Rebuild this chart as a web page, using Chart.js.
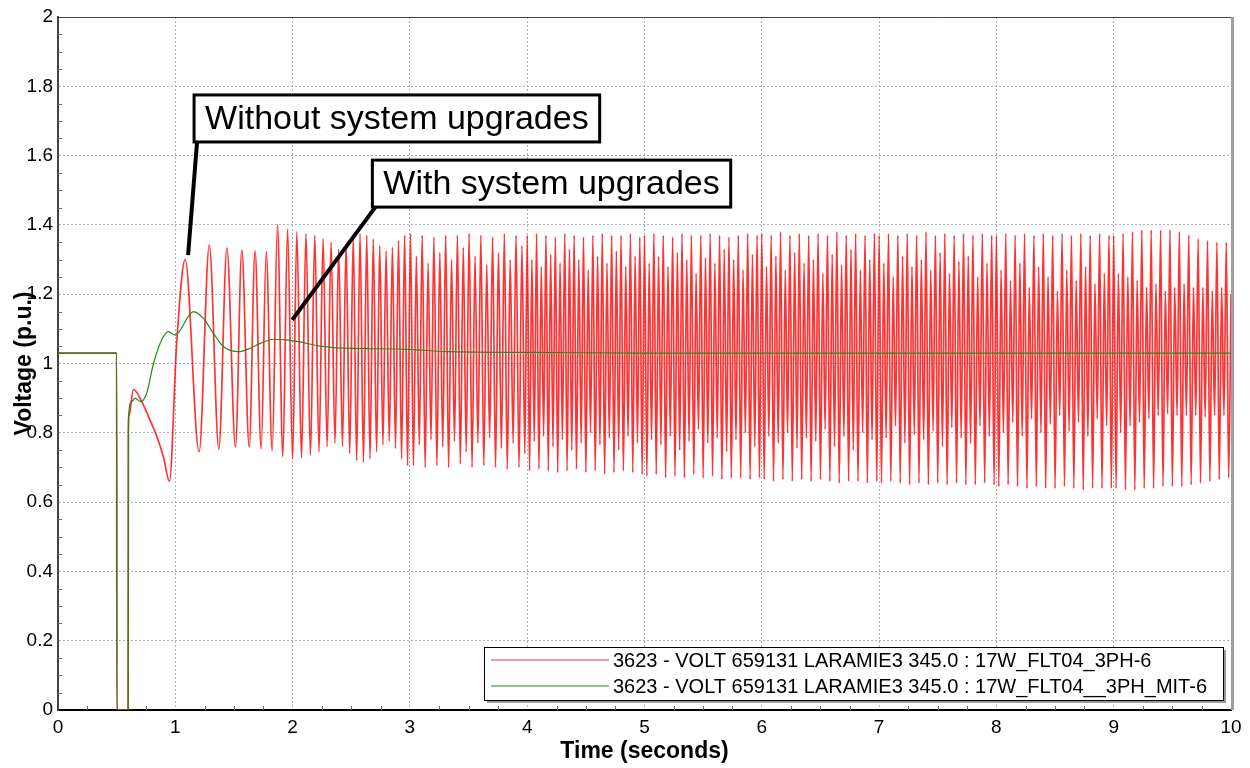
<!DOCTYPE html>
<html><head><meta charset="utf-8">
<script src="https://cdn.jsdelivr.net/npm/chart.js@4.4.1/dist/chart.umd.min.js"></script>
<style>html,body{margin:0;padding:0;background:#fff;overflow:hidden}</style>
</head><body>
<canvas id="c" width="1250" height="768"></canvas>
<script>
// ---------- DATA ----------
const timeTickLabels = ['0','1','2','3','4','5','6','7','8','9','10'];
const voltTickLabels = ['0','0.2','0.4','0.6','0.8','1','1.2','1.4','1.6','1.8','2'];

const seriesNames = [
  '3623 - VOLT 659131 LARAMIE3 345.0 : 17W_FLT04_3PH-6',
  '3623 - VOLT 659131 LARAMIE3 345.0 : 17W_FLT04__3PH_MIT-6'
];

// Without system upgrades (red) : time of each turning point (s)
const redTime = [
  0,0.5,0.502,0.598,0.6,0.606,0.643,0.714,0.78,0.842,0.899,0.95,1.012,
  1.084,1.203,1.29,1.371,1.44,1.513,1.567,1.63,1.68,1.732,1.775,1.826,1.871,1.917,1.957,2.0,
  2.036,2.076,2.114,2.152,2.189,2.225,2.26,2.294,2.328,2.361,2.393,2.425,2.456,2.487,2.517,2.546,2.575,2.604,2.632,2.66,2.688,2.716,2.743,2.77,2.797,2.824,2.851,2.877,2.903,2.929,2.955,2.98,
  3.005,3.03,3.055,3.08,3.105,3.13,3.155,3.18,3.205,3.23,3.255,3.28,3.305,3.33,3.355,3.38,3.405,3.43,3.455,3.48,3.505,3.53,3.555,3.58,3.605,3.63,3.655,3.68,3.705,3.73,3.755,3.78,3.805,3.83,3.855,3.88,3.905,3.93,3.955,3.98,
  4.00,4.02,4.04,4.06,4.08,4.10,4.12,4.14,4.16,4.18,4.20,4.22,4.24,4.26,4.28,4.30,4.32,4.34,4.36,4.38,4.40,4.42,4.44,4.46,4.48,4.50,4.52,4.54,4.56,4.58,4.60,4.62,4.64,4.66,4.68,4.70,4.72,4.74,4.76,4.78,4.80,4.82,4.84,4.86,4.88,4.90,4.92,4.94,4.96,4.98,
  5.00,5.02,5.04,5.06,5.08,5.10,5.12,5.14,5.16,5.18,5.20,5.22,5.24,5.26,5.28,5.30,5.32,5.34,5.36,5.38,5.40,5.42,5.44,5.46,5.48,5.50,5.52,5.54,5.56,5.58,5.60,5.62,5.64,5.66,5.68,5.70,5.72,5.74,5.76,5.78,5.80,5.82,5.84,5.86,5.88,5.90,5.92,5.94,5.96,5.98,
  6.00,6.02,6.04,6.06,6.08,6.10,6.12,6.14,6.16,6.18,6.20,6.22,6.24,6.26,6.28,6.30,6.32,6.34,6.36,6.38,6.40,6.42,6.44,6.46,6.48,6.50,6.52,6.54,6.56,6.58,6.60,6.62,6.64,6.66,6.68,6.70,6.72,6.74,6.76,6.78,6.80,6.82,6.84,6.86,6.88,6.90,6.92,6.94,6.96,6.98,
  7.00,7.02,7.04,7.06,7.08,7.10,7.12,7.14,7.16,7.18,7.20,7.22,7.24,7.26,7.28,7.30,7.32,7.34,7.36,7.38,7.40,7.42,7.44,7.46,7.48,7.50,7.52,7.54,7.56,7.58,7.60,7.62,7.64,7.66,7.68,7.70,7.72,7.74,7.76,7.78,7.80,7.82,7.84,7.86,7.88,7.90,7.92,7.94,7.96,7.98,
  8.00,8.02,8.04,8.06,8.08,8.10,8.12,8.14,8.16,8.18,8.20,8.22,8.24,8.26,8.28,8.30,8.32,8.34,8.36,8.38,8.40,8.42,8.44,8.46,8.48,8.50,8.52,8.54,8.56,8.58,8.60,8.62,8.64,8.66,8.68,8.70,8.72,8.74,8.76,8.78,8.80,8.82,8.84,8.86,8.88,8.90,8.92,8.94,8.96,8.98,
  9.00,9.02,9.04,9.06,9.08,9.10,9.12,9.14,9.16,9.18,9.20,9.22,9.24,9.26,9.28,9.30,9.32,9.34,9.36,9.38,9.40,9.42,9.44,9.46,9.48,9.50,9.52,9.54,9.56,9.58,9.60,9.62,9.64,9.66,9.68,9.70,9.72,9.74,9.76,9.78,9.80,9.82,9.84,9.86,9.88,9.90,9.92,9.94,9.96,9.98,
  10.0
];
// Without system upgrades (red) : voltage at each turning point (p.u.)
const redVolt = [
  1.03,1.03,0,0,0.80,0.85,0.925,0.89,0.84,0.79,0.73,0.66,1.06,
  1.30,0.745,1.342,0.753,1.334,0.759,1.327,0.759,1.325,0.753,1.323,0.748,1.40,0.731,1.388,0.724,
  1.38,0.728,1.375,0.735,1.37,0.745,1.36,0.76,1.35,0.77,1.33,0.76,1.345,0.74,1.365,0.72,1.375,0.715,1.37,0.725,1.36,0.745,1.34,0.765,1.325,0.775,1.335,0.755,1.355,0.725,1.37,0.705,
  1.375,0.705,1.31,0.765,1.37,0.70,1.29,0.78,1.365,0.705,1.32,0.76,1.37,0.70,1.30,0.775,1.37,0.71,1.335,0.745,1.375,0.70,1.31,0.77,1.37,0.705,1.285,0.785,1.365,0.70,1.32,0.755,1.375,0.695,1.30,0.77,1.37,0.70,1.34,0.74,
  1.37,0.69,1.30,0.775,1.375,0.695,1.28,0.79,1.37,0.69,1.315,0.76,1.365,0.685,1.29,0.78,1.375,0.69,1.33,0.75,1.37,0.695,1.30,0.77,1.365,0.685,1.27,0.80,1.37,0.69,1.31,0.765,1.375,0.68,1.29,0.785,1.37,0.685,1.325,0.75,1.37,0.69,1.28,0.79,1.375,0.685,1.31,0.77,1.365,0.68,
  1.37,0.675,1.29,0.78,1.375,0.68,1.31,0.765,1.37,0.67,1.28,0.79,1.365,0.675,1.32,0.75,1.375,0.67,1.30,0.775,1.37,0.68,1.26,0.81,1.37,0.67,1.305,0.77,1.375,0.675,1.29,0.785,1.37,0.665,1.33,0.745,1.365,0.67,1.30,0.78,1.37,0.67,1.27,0.80,1.375,0.665,1.315,0.76,1.37,0.67,
  1.375,0.665,1.28,0.79,1.37,0.66,1.31,0.77,1.38,0.665,1.27,0.80,1.37,0.66,1.32,0.755,1.375,0.665,1.29,0.785,1.37,0.66,1.30,0.775,1.375,0.665,1.26,0.81,1.37,0.66,1.315,0.76,1.38,0.655,1.285,0.79,1.37,0.66,1.33,0.75,1.375,0.66,1.27,0.80,1.37,0.655,1.30,0.78,1.375,0.66,
  1.37,0.655,1.29,0.785,1.375,0.66,1.25,0.82,1.37,0.655,1.31,0.77,1.375,0.65,1.28,0.795,1.37,0.655,1.30,0.78,1.38,0.65,1.27,0.805,1.37,0.655,1.32,0.76,1.375,0.65,1.26,0.815,1.37,0.655,1.295,0.785,1.375,0.65,1.31,0.77,1.37,0.65,1.25,0.82,1.375,0.655,1.29,0.79,1.37,0.65,
  1.37,0.645,1.27,0.80,1.375,0.65,1.24,0.83,1.37,0.645,1.29,0.79,1.375,0.64,1.22,0.84,1.37,0.645,1.28,0.80,1.375,0.64,1.25,0.825,1.37,0.64,1.21,0.85,1.375,0.645,1.27,0.805,1.37,0.64,1.24,0.83,1.375,0.635,1.28,0.79,1.37,0.64,1.23,0.84,1.375,0.64,1.26,0.82,1.37,0.64,
  1.37,0.64,1.26,0.80,1.375,0.635,1.25,0.82,1.38,0.635,1.24,0.83,1.385,0.64,1.22,0.84,1.385,0.64,1.23,0.85,1.385,0.645,1.21,0.855,1.385,0.645,1.22,0.85,1.38,0.645,1.23,0.85,1.37,0.65,1.22,0.85,1.36,0.655,1.22,0.845,1.355,0.66,1.21,0.85,1.35,0.665,1.22,0.85,1.35,0.67,
  1.20
];

// With system upgrades (green)
const greenTime = [0,0.5,0.502,0.598,0.6,0.628,0.657,0.705,0.756,0.814,0.884,0.941,0.998,1.155,1.24,1.325,1.41,1.538,1.638,1.724,1.837,1.951,2.05,2.235,2.378,3.0,3.317,4.03,5.0,10.0];
const greenVolt = [1.03,1.03,0,0,0.84,0.89,0.90,0.89,0.914,1.0,1.068,1.092,1.082,1.15,1.13,1.087,1.049,1.034,1.044,1.058,1.07,1.068,1.063,1.05,1.045,1.041,1.034,1.032,1.03,1.03];

// Callout annotations: text, box anchor (time, volt of top-left), pointer tip (time, volt)
const calloutTexts = ['Without system upgrades', 'With system upgrades'];
const calloutBoxAnchor = [[1.16, 1.775], [2.68, 1.587]];
const calloutTip = [[1.109, 1.313], [1.997, 1.126]];

// ---------- CHART ----------
function pts(ts, vs) {
  const n = Math.min(ts.length, vs.length);
  const out = [];
  for (let i = 0; i < n; i++) out.push({x: ts[i], y: vs[i]});
  return out;
}

const FONT = "'Liberation Sans', Arial, sans-serif";
Chart.defaults.font.family = FONT;
Chart.defaults.color = '#000';

const decor = {
  id: 'decor',
  afterDraw(chart) {
    const {ctx, chartArea: ca, scales: {x, y}} = chart;
    ctx.save();
    // minor ticks (inside)
    ctx.strokeStyle = '#666';
    ctx.lineWidth = 1;
    ctx.beginPath();
    for (let k = 1; k < 40; k++) {
      if (k % 4 === 0) continue;
      const px = Math.round(x.getPixelForValue(k * 0.25)) + 0.5;
      ctx.moveTo(px, ca.bottom); ctx.lineTo(px, ca.bottom - 4);
    }
    for (let k = 1; k < 40; k++) {
      if (k % 4 === 0) continue;
      const py = Math.round(y.getPixelForValue(k * 0.05)) + 0.5;
      ctx.moveTo(ca.left, py); ctx.lineTo(ca.left + 4, py);
    }
    ctx.stroke();
    // top and right frame
    ctx.strokeStyle = '#444';
    ctx.lineWidth = 1;
    ctx.beginPath(); ctx.moveTo(ca.left, ca.top + 0.5); ctx.lineTo(ca.right, ca.top + 0.5); ctx.stroke();
    ctx.strokeStyle = '#a0a0a0';
    ctx.lineWidth = 3;
    ctx.beginPath(); ctx.moveTo(ca.right + 1.5, ca.top); ctx.lineTo(ca.right + 1.5, ca.bottom); ctx.stroke();

    // callouts
    ctx.font = '34px ' + FONT;
    ctx.textBaseline = 'middle';
    ctx.textAlign = 'left';
    for (let i = 0; i < calloutTexts.length; i++) {
      const bx = x.getPixelForValue(calloutBoxAnchor[i][0]);
      const by = y.getPixelForValue(calloutBoxAnchor[i][1]);
      const w = ctx.measureText(calloutTexts[i]).width + 22;
      const h = 47;
      const tx = x.getPixelForValue(calloutTip[i][0]);
      const ty = y.getPixelForValue(calloutTip[i][1]);
      ctx.strokeStyle = '#000';
      ctx.lineWidth = 4;
      ctx.beginPath(); ctx.moveTo(bx + 3, by + h); ctx.lineTo(tx, ty); ctx.stroke();
      ctx.fillStyle = '#fff';
      ctx.fillRect(bx, by, w, h);
      ctx.lineWidth = 3;
      ctx.strokeRect(bx, by, w, h);
      ctx.fillStyle = '#000';
      ctx.fillText(calloutTexts[i], bx + 11, by + h / 2 + 1);
    }

    // legend box (inside, bottom right)
    ctx.font = '20px ' + FONT;
    let tw = 0;
    seriesNames.forEach(s => { tw = Math.max(tw, ctx.measureText(s).width); });
    const lw = 129 + tw + 16;
    const lh = 53;
    const lr = ca.right - 8, lb = ca.bottom - 10;
    const lx = lr - lw, ly = lb - lh;
    ctx.fillStyle = '#9a9a9a';
    ctx.fillRect(lx + 3, ly + 3, lw, lh);
    ctx.fillStyle = '#fff';
    ctx.fillRect(lx, ly, lw, lh);
    ctx.strokeStyle = '#000';
    ctx.lineWidth = 1;
    ctx.strokeRect(lx + 0.5, ly + 0.5, lw, lh);
    const cols = ['rgba(255,60,60,0.55)', 'rgb(30,140,30)'];
    const widths = [2, 1.2];
    seriesNames.forEach((s, i) => {
      const cy = ly + 13 + i * 26;
      ctx.strokeStyle = cols[i];
      ctx.lineWidth = widths[i];
      ctx.beginPath(); ctx.moveTo(lx + 7, cy); ctx.lineTo(lx + 125, cy); ctx.stroke();
      ctx.fillStyle = '#000';
      ctx.fillText(s, lx + 129, cy + 1);
    });
    ctx.restore();
  }
};

new Chart(document.getElementById('c'), {
  type: 'line',
  data: {
    datasets: [
      {
        label: seriesNames[0],
        data: pts(redTime, redVolt),
        borderColor: 'rgba(255,0,0,0.8)',
        borderWidth: 1.7,
        pointRadius: 0,
        cubicInterpolationMode: 'monotone',
        fill: false,
        order: 2
      },
      {
        label: seriesNames[1],
        data: pts(greenTime, greenVolt),
        borderColor: 'rgb(30,140,30)',
        borderWidth: 1.2,
        pointRadius: 0,
        cubicInterpolationMode: 'monotone',
        fill: false,
        order: 1
      }
    ]
  },
  options: {
    responsive: false,
    animation: false,
    devicePixelRatio: 1,
    parsing: false,
    normalized: true,
    events: [],
    layout: {padding: {top: 17, right: 19, bottom: 0, left: 0}},
    plugins: {legend: {display: false}, tooltip: {enabled: false}, title: {display: false}},
    scales: {
      x: {
        type: 'linear',
        min: 0, max: 10,
        afterFit(s) { s.height = 58; },
        ticks: {
          stepSize: 1, autoSkip: false, maxRotation: 0, padding: 6,
          font: {size: 19}, color: '#000',
          callback: (v) => timeTickLabels[Math.round(v)]
        },
        grid: {color: '#b0b0b0', lineWidth: 1, drawTicks: false},
        border: {display: true, color: '#000', width: 2, dash: [2, 2]},
        title: {display: true, text: 'Time (seconds)', font: {size: 23, weight: 'bold'}, color: '#000', padding: {top: 0, bottom: 3}}
      },
      y: {
        type: 'linear',
        min: 0, max: 2,
        afterFit(s) { s.width = 58; },
        ticks: {
          stepSize: 0.2, autoSkip: false, padding: 5,
          font: {size: 19}, color: '#000',
          callback: (v) => voltTickLabels[Math.round(v / 0.2)]
        },
        grid: {color: '#b0b0b0', lineWidth: 1, drawTicks: false},
        border: {display: true, color: '#444', width: 2, dash: [2, 2]},
        title: {display: true, text: 'Voltage (p.u.)', font: {size: 23, weight: 'bold'}, color: '#000', padding: {top: 11, bottom: 0}}
      }
    }
  },
  plugins: [decor]
});
</script>
</body></html>
